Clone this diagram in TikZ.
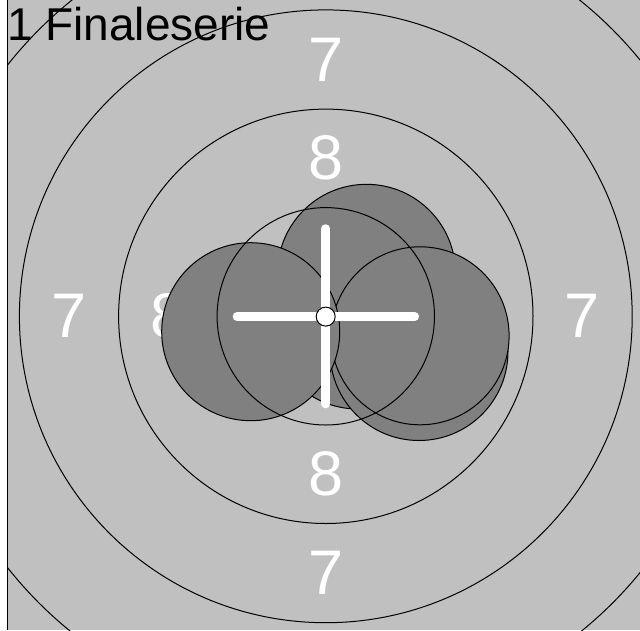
\documentclass[tikz,border=0pt]{standalone}
\usepackage{fontspec}
\setmainfont{Liberation Sans}
\definecolor{bggray}{RGB}{192,192,192}
\definecolor{shotgray}{RGB}{128,128,128}
\begin{document}
\begin{tikzpicture}[x=1pt,y=-1pt,
  ring/.style={draw=black,line width=1pt},
  shot/.style={fill=shotgray,draw=black,line width=1pt},
  score/.style={text=white,inner sep=0pt,font=\fontsize{63}{63}\selectfont},
  crossline/.style={draw=white,line width=8.5pt,line cap=round}]
\useasboundingbox (0,0) rectangle (640,630);
\fill[white] (0,0) rectangle (640,630);
\fill[bggray] (7.5,0) rectangle (640,630);
\coordinate (c) at (325.8,316.3);
% score numbers
\node[score] (s7t) at (325.8,59.8) {7};
\node[score] (s8t) at (325.8,158.3) {8};
\node[score] (s8b) at (325.8,474.3) {8};
\node[score] (s7b) at (325.8,572.8) {7};
\node[score] (s7l) at (69.3,316.3) {7};
\node[score] (s8l) at (167.8,316.3) {8};
\node[score] (s7r) at (582.3,316.3) {7};
\begin{scope}
  \clip (7.5,0) rectangle (640,630);
  % shots
  \draw[shot] (358,320) circle[radius=89];
  \draw[shot] (366.5,273.3) circle[radius=89];
  \draw[shot] (419,351.5) circle[radius=89];
  \draw[shot] (420.1,335.8) circle[radius=89];
  \draw[shot] (250.7,331.7) circle[radius=89];
  % rings
  \draw[ring] (c) circle[radius=108.7];
  \draw[ring] (c) circle[radius=207.2];
  \draw[ring] (c) circle[radius=306.4];
  \draw[ring] (c) circle[radius=405.5];
\end{scope}
% cross
\coordinate (cl) at (236.9,316.5);
\coordinate (cr) at (414.8,316.5);
\coordinate (ct) at (325.7,228.5);
\coordinate (cb) at (325.7,404.1);
\draw[crossline] (cl) -- (cr);
\draw[crossline] (ct) -- (cb);
\draw[fill=white,draw=black,line width=1pt] (325.7,316.6) circle[radius=9.5];
% left border
\draw[black,line width=1.3pt] (7.5,0) -- (7.5,630);
% title
\node[anchor=base west,inner sep=0pt,font=\fontsize{46}{46}\selectfont] (title) at (7,40.5) {1 Finaleserie};
\end{tikzpicture}
\end{document}
